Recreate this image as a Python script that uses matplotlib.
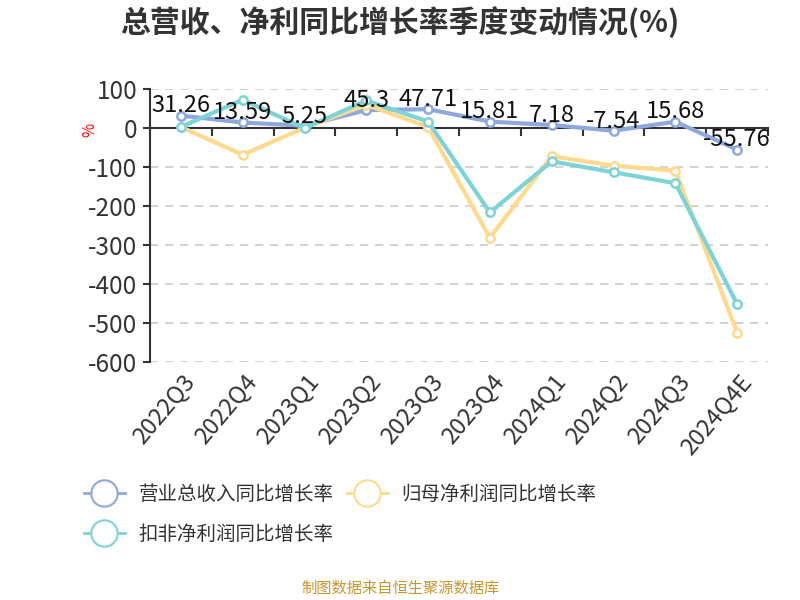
import matplotlib
matplotlib.use("Agg")
import matplotlib.pyplot as plt
import matplotlib.transforms as mtransforms

plt.rcParams['font.family'] = ['Noto Sans CJK SC', 'DejaVu Sans']
plt.rcParams['axes.unicode_minus'] = False

# 数据
quarters = ['2022Q3', '2022Q4', '2023Q1', '2023Q2', '2023Q3',
            '2023Q4', '2024Q1', '2024Q2', '2024Q3', '2024Q4E']
revenue = [31.26, 13.59, 5.25, 45.3, 47.71, 15.81, 7.18, -7.54, 15.68, -55.76]
net_profit = [2, -69, 0, 59, 2, -282, -73, -97, -110, -525]
deducted = [2, 72, -1, 70, 16, -217, -86, -114, -142, -452]
names = ['营业总收入同比增长率', '归母净利润同比增长率', '扣非净利润同比增长率']
colors = ['#8fa8dc', '#ffd98e', '#7dd3d6']

fig = plt.figure(figsize=(8, 6), dpi=100)
ax = fig.add_axes([0.1875, 0.397, 0.7725, 0.455])

x = list(range(len(quarters)))
series = [revenue, net_profit, deducted]
for vals, c, n in zip(series, colors, names):
    ax.plot(x, vals, color=c, lw=3, marker='o', ms=6,
            markerfacecolor='white', markeredgecolor=c, markeredgewidth=1.8,
            label=n, zorder=3)

# 营收数据标签
for i, v in enumerate(revenue):
    ax.annotate(f'{v:g}', (i, v), xytext=(0, 7), textcoords='offset points',
                ha='center', va='center', fontsize=17, color='#111111', zorder=5)

ax.set_xlim(-0.5, len(quarters) - 0.5)
ax.set_ylim(-600, 100)
ax.set_yticks(range(-600, 101, 100))
ax.tick_params(axis='y', labelsize=17.5, labelcolor='#333333', length=5, width=1.5,
               color='#333333', pad=4)
for yv in range(-600, 101, 100):
    if yv != 0:
        ax.axhline(yv, color='#cccccc', lw=1.2, ls=(0, (5, 4)), zorder=1)

for s in ['top', 'right']:
    ax.spines[s].set_visible(False)
ax.spines['left'].set_color('#333333')
ax.spines['left'].set_linewidth(1.5)
ax.spines['bottom'].set_position(('data', 0))
ax.spines['bottom'].set_color('#333333')
ax.spines['bottom'].set_linewidth(1.5)
ax.set_xticks([i - 0.5 for i in range(len(quarters) + 1)])
ax.set_xticklabels([])
ax.tick_params(axis='x', direction='out', length=6, width=1.5, color='#333333')

trans = mtransforms.blended_transform_factory(ax.transData, ax.transAxes)
for i, q in enumerate(quarters):
    ax.text(i + 0.02, -0.03, q, transform=trans, rotation=50, ha='right', va='top',
            rotation_mode='anchor', fontsize=17, color='#333333')

fig.text(0.112, 0.783, '%', color='red', fontsize=11, rotation=90, ha='center', va='center')

fig.suptitle('总营收、净利同比增长率季度变动情况(%)', x=0.5, y=0.99,
             fontsize=21.5, fontweight='bold', color='#333333')

handles = []
for c, n in zip(colors, names):
    h, = plt.plot([], [], color=c, lw=2, marker='o', ms=19, markerfacecolor='white',
                  markeredgecolor=c, markeredgewidth=1.5, label=n)
    handles.append(h)
# 按行排列: 第一行 营收、归母, 第二行 扣非
order = [handles[0], handles[2], handles[1]]
fig.legend(handles=order, loc='upper left', bbox_to_anchor=(0.083, 0.222), ncol=2,
           frameon=False, fontsize=14, handlelength=2.1, handletextpad=0.7,
           columnspacing=0.7, labelspacing=0.95, labelcolor='#333333')

fig.text(0.5, 0.02, '制图数据来自恒生聚源数据库', ha='center', va='center',
         fontsize=11, color='#c9962c')

fig.savefig('out.png', dpi=100)
